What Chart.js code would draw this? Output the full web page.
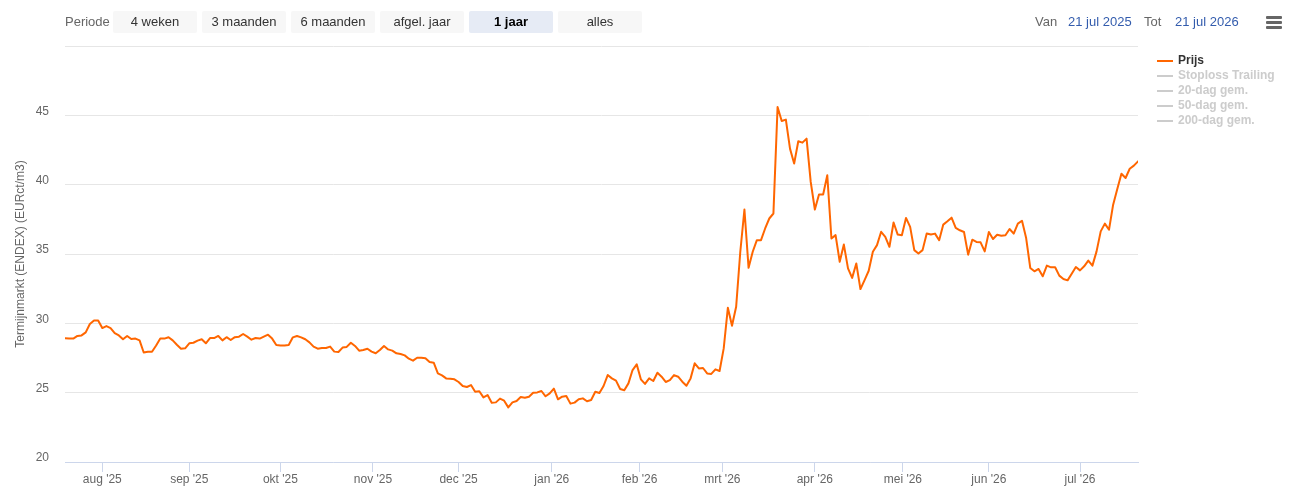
<!DOCTYPE html>
<html>
<head>
<meta charset="utf-8">
<script src="https://cdn.jsdelivr.net/npm/chart.js@4.4.1/dist/chart.umd.min.js"></script>
<style>
html,body{margin:0;padding:0;background:#fff;}
body{width:1295px;height:491px;position:relative;overflow:hidden;font-family:"Liberation Sans",Arial,sans-serif;}
#wrap{position:absolute;left:0;top:0;width:1295px;height:491px;}
.lbl{position:absolute;top:11px;line-height:22px;font-size:13px;color:#666;white-space:nowrap;}
.btn{position:absolute;top:11px;width:84px;height:22px;line-height:22px;text-align:center;font-size:13px;color:#333;background:#f7f7f7;border-radius:2px;}
.btn.sel{background:#e6ebf5;color:#000;font-weight:bold;}
.date{position:absolute;top:11px;line-height:22px;font-size:13px;color:#335cad;white-space:nowrap;}
.menu{position:absolute;left:1266px;width:16px;height:3px;background:#666;border-radius:1px;}
#legend{position:absolute;left:1157px;top:53px;}
.li{position:relative;height:15px;line-height:15px;font-size:12px;font-weight:bold;white-space:nowrap;padding-left:21px;}
.li .sym{position:absolute;left:0;top:7px;width:16px;height:2px;}
</style>
</head>
<body>
<div id="wrap"><canvas id="chart"></canvas></div>
<div id="controls"></div>
<div id="legend"></div>
<script>
// ---- data ----
const periodButtons = ['4 weken', '3 maanden', '6 maanden', 'afgel. jaar', '1 jaar', 'alles'];
const selectedPeriod = '1 jaar';
const rangeFrom = '21 jul 2025';
const rangeTo = '21 jul 2026';
const seriesNames = ['Prijs', 'Stoploss Trailing', '20-dag gem.', '50-dag gem.', '200-dag gem.'];
const seriesVisible = [true, false, false, false, false];
const yTitle = 'Termijnmarkt (ENDEX) (EURct/m3)';
const monthNames = ['jan', 'feb', 'mrt', 'apr', 'mei', 'jun', 'jul', 'aug', 'sep', 'okt', 'nov', 'dec'];
const startDate = '2025-07-21';
const endDate = '2026-07-21';
const holidays = ['2026-01-01', '2026-05-01'];
const monthTickDates = ['2025-08-01', '2025-09-01', '2025-10-01', '2025-11-01', '2025-12-01', '2026-01-01',
                        '2026-02-01', '2026-03-01', '2026-04-01', '2026-05-01', '2026-06-01', '2026-07-01'];
const yTicks = [20, 25, 30, 35, 40, 45, 50];

const prijs = [
  28.92, 28.90, 28.90, 29.09, 29.13, 29.35, 29.95, 30.20, 30.20, 29.66,
  29.80, 29.66, 29.30, 29.13, 28.85, 29.09, 28.87, 28.90, 28.77, 27.90,
  27.95, 27.95, 28.40, 28.90, 28.90, 29.00, 28.77, 28.46, 28.17, 28.20,
  28.56, 28.60, 28.75, 28.85, 28.56, 28.94, 28.94, 29.09, 28.77, 29.00,
  28.80, 29.00, 29.04, 29.23, 29.04, 28.82, 28.94, 28.90, 29.04, 29.18,
  28.90, 28.44, 28.41,
  28.41, 28.44, 28.99, 29.09, 28.99, 28.85, 28.63, 28.32, 28.17, 28.22,
  28.22, 28.32, 27.96, 27.93, 28.25, 28.30, 28.60, 28.37, 28.03, 28.08,
  28.17, 27.96, 27.84, 28.08, 28.37, 28.12, 28.03, 27.84, 27.79, 27.69,
  27.45, 27.31, 27.52, 27.52, 27.48, 27.21, 27.16, 26.39, 26.25, 26.03,
  26.01, 25.96, 25.77, 25.48, 25.41, 25.55, 25.07, 25.10, 24.66, 24.83,
  24.28, 24.30,
  24.57, 24.42, 23.94, 24.30, 24.40, 24.69, 24.64, 24.71, 25.00, 25.02,
  25.12, 24.74, 24.95, 25.29, 24.52, 24.71, 24.76, 24.21, 24.28, 24.52,
  24.59, 24.38, 24.47, 25.07, 24.98, 25.48, 26.27, 26.03, 25.87, 25.26,
  25.17, 25.67, 26.63, 27.04, 25.96, 25.63, 26.03, 25.84, 26.44, 26.15,
  25.77, 25.91, 26.27, 26.15, 25.79, 25.50, 26.03, 27.12, 26.75, 26.78,
  26.39, 26.35, 26.68,
  26.56, 28.19, 31.12, 29.83, 31.19, 35.16, 38.21, 34.00, 35.16, 36.00,
  36.00, 36.84, 37.56, 37.92, 45.60, 44.59, 44.69, 42.60, 41.52, 43.13,
  43.03, 43.32, 40.20, 38.21, 39.29, 39.29, 40.68, 36.12, 36.36, 34.44,
  35.68, 33.96, 33.28, 34.32, 32.47, 33.12, 33.79, 35.16, 35.64, 36.60,
  36.24, 35.52, 37.27, 36.40, 36.36, 37.60, 36.96, 35.28, 35.04, 35.28,
  36.48, 36.40,
  36.47, 35.99, 37.12, 37.36, 37.62, 36.88, 36.71, 36.59, 34.95, 36.03,
  35.87, 35.84, 35.19, 36.59, 36.08, 36.39, 36.32, 36.35, 36.80, 36.47,
  37.19, 37.40, 36.15, 33.99, 33.75, 33.92, 33.39, 34.16, 34.04, 34.04,
  33.44, 33.20, 33.10, 33.58, 34.06, 33.82, 34.11, 34.52, 34.16, 35.19,
  36.63, 37.19, 36.75, 38.56, 39.69, 40.79, 40.48, 41.15, 41.37, 41.68
];

// ---- trading-day (ordinal) axis helpers ----
const DAY = 86400000;
function toTime(iso) { return Date.parse(iso + 'T00:00:00Z'); }
function buildTradingDays(from, to, skip) {
  const out = [];
  for (let t = toTime(from); t <= toTime(to); t += DAY) {
    const wd = new Date(t).getUTCDay();
    const iso = new Date(t).toISOString().slice(0, 10);
    if (wd !== 0 && wd !== 6 && skip.indexOf(iso) === -1) out.push(iso);
  }
  return out;
}
const dates = buildTradingDays(startDate, endDate, holidays);
const dateTimes = dates.map(toTime);
// ordinal position of a calendar date (interpolated between trading days)
function ordinalPos(iso) {
  const t = toTime(iso);
  for (let i = 0; i < dateTimes.length - 1; i++) {
    if (t >= dateTimes[i] && t <= dateTimes[i + 1]) {
      return i + (t - dateTimes[i]) / (dateTimes[i + 1] - dateTimes[i]);
    }
  }
  return null;
}
const monthTicks = monthTickDates.map(d => ({
  value: ordinalPos(d),
  label: monthNames[parseInt(d.slice(5, 7), 10) - 1] + " '" + d.slice(2, 4)
}));

// ---- HTML controls ----
const controls = document.getElementById('controls');
let html = '<div class="lbl" style="left:65px">Periode</div>';
periodButtons.forEach((b, i) => {
  html += '<div class="btn' + (b === selectedPeriod ? ' sel' : '') + '" style="left:' + (113 + i * 89) + 'px">' + b + '</div>';
});
html += '<div class="lbl" style="left:1035px">Van</div>';
html += '<div class="date" style="left:1068px">' + rangeFrom + '</div>';
html += '<div class="lbl" style="left:1144px">Tot</div>';
html += '<div class="date" style="left:1175px">' + rangeTo + '</div>';
[15.5, 20.5, 25.5].forEach(t => { html += '<div class="menu" style="top:' + t + 'px"></div>'; });
controls.innerHTML = html;

const lineColor = '#ff6600';
const hiddenColor = '#cccccc';
const legend = document.getElementById('legend');
legend.innerHTML = seriesNames.map((n, i) => {
  const c = seriesVisible[i] ? lineColor : hiddenColor;
  const tc = seriesVisible[i] ? '#333333' : hiddenColor;
  return '<div class="li" style="color:' + tc + '"><span class="sym" style="background:' + c + '"></span>' + n + '</div>';
}).join('');

// ---- chart ----
const font = { family: '"Liberation Sans", Arial, sans-serif', size: 12 };
const datasets = seriesNames.map((n, i) => ({
  label: n,
  data: i === 0 ? prijs.map((v, k) => ({ x: k, y: v })) : [],
  hidden: !seriesVisible[i],
  borderColor: i === 0 ? lineColor : hiddenColor,
  borderWidth: 2,
  pointRadius: 0,
  tension: 0,
  borderJoinStyle: 'round',
  borderCapStyle: 'round',
  fill: false
}));

new Chart(document.getElementById('chart'), {
  type: 'line',
  data: { datasets: datasets },
  options: {
    responsive: true,
    maintainAspectRatio: false,
    animation: false,
    events: [],
    parsing: true,
    layout: { padding: { top: 46, right: 157, bottom: 0, left: 0 } },
    plugins: { legend: { display: false }, tooltip: { enabled: false }, title: { display: false } },
    scales: {
      x: {
        type: 'linear',
        min: 0,
        max: dates.length - 1,
        afterFit: s => { s.height = 29; },
        afterBuildTicks: s => { s.ticks = monthTicks.map(t => ({ value: t.value })); },
        border: { display: true, color: '#ccd6eb', width: 1 },
        grid: { display: true, drawOnChartArea: false, drawTicks: true, tickLength: 10, color: '#ccd6eb', lineWidth: 1 },
        ticks: {
          autoSkip: false,
          maxRotation: 0,
          minRotation: 0,
          padding: 0,
          color: '#666666',
          font: font,
          callback: (v, i) => monthTicks[i].label
        }
      },
      y: {
        min: yTicks[0],
        max: yTicks[yTicks.length - 1],
        afterFit: s => { s.width = 65; },
        afterBuildTicks: s => { s.ticks = yTicks.map(v => ({ value: v })); },
        border: { display: false },
        grid: { color: '#e6e6e6', lineWidth: 1, drawTicks: false },
        ticks: {
          padding: 16,
          labelOffset: -4,
          color: '#666666',
          font: font,
          callback: v => (v === yTicks[yTicks.length - 1] ? '' : v)
        },
        title: {
          display: true,
          text: yTitle,
          color: '#666666',
          font: font,
          padding: { top: 13, bottom: 0 }
        }
      }
    }
  }
});
</script>
</body>
</html>
